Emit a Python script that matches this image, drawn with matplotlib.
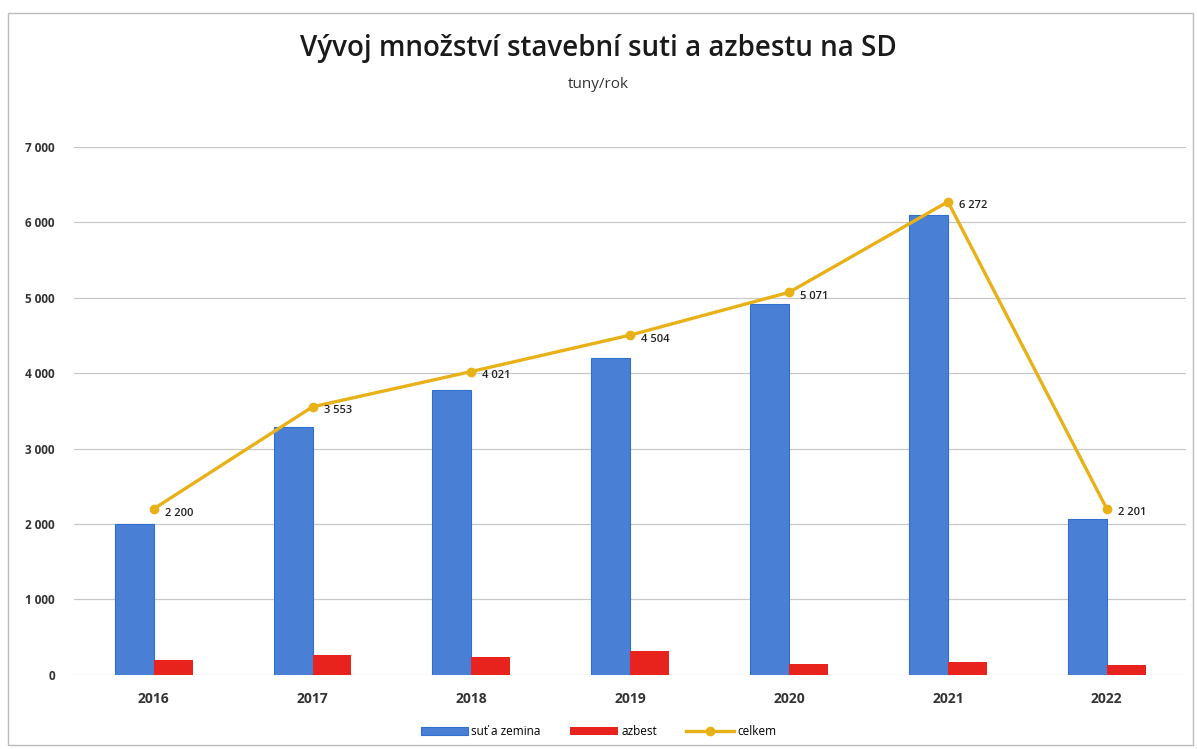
import numpy as np
import matplotlib
matplotlib.use("Agg")
import matplotlib.pyplot as plt
from matplotlib.ticker import FuncFormatter

years = ["2016", "2017", "2018", "2019", "2020", "2021", "2022"]
celkem = [2200, 3553, 4021, 4504, 5071, 6272, 2201]
azbest = [200, 265, 240, 310, 150, 175, 130]
sut = [2000, 3288, 3781, 4194, 4921, 6097, 2071]

plt.rcParams['font.family'] = ['Open Sans', 'DejaVu Sans']


def fmt(v):
    return f"{int(v):,}".replace(",", " ")


fig = plt.figure(figsize=(11.97, 7.49), dpi=100)
ax = fig.add_axes([0.062, 0.099, 0.929, 0.705])

x = np.arange(len(years))
w = 0.245
b1 = ax.bar(x - w / 2, sut, w, color='#4a7fd6', edgecolor='#2f6fd0', linewidth=0.8, label='suť a zemina', zorder=2)
b2 = ax.bar(x + w / 2, azbest, w, color='#e8221c', label='azbest', zorder=2)
l1, = ax.plot(x, celkem, color='#e9b118', lw=2.4, marker='o', ms=6, label='celkem', zorder=3)

for xi, v in zip(x, celkem):
    ax.annotate(fmt(v), (xi, v), xytext=(8, -3), textcoords='offset points',
                fontsize=8, fontweight='semibold', color='#222222', va='center', ha='left')

ax.set_xlim(-0.5, len(years) - 0.5)
ax.set_ylim(0, 7000)
ax.set_yticks(range(0, 7001, 1000))
ax.yaxis.set_major_formatter(FuncFormatter(lambda v, p: fmt(v)))
ax.set_xticks(x)
ax.set_xticklabels(years, fontsize=10, fontweight='bold', color='#333333')
ax.tick_params(axis='y', labelsize=8.5, colors='#333333', length=0, pad=14)
ax.tick_params(axis='x', length=0, pad=12)
for lbl in ax.get_yticklabels():
    lbl.set_fontweight('bold')
ax.grid(axis='y', color='#c8c8c8', lw=0.9, zorder=0)
for s in ax.spines.values():
    s.set_visible(False)

fig.text(0.5, 0.935, "Vývoj množství stavební suti a azbestu na SD", ha='center', va='center',
         fontsize=20, fontweight='semibold', color='#1a1a1a')
fig.text(0.5, 0.887, "tuny/rok", ha='center', va='center', fontsize=11, color='#333333')

fig.legend([b1, b2, l1], ['suť a zemina', 'azbest', 'celkem'], loc='lower center',
           bbox_to_anchor=(0.5, 0.0), ncol=3, frameon=False,
           fontsize=8.5, handlelength=4, columnspacing=2.5, handletextpad=0.3)

fig.patches.append(plt.Rectangle((0.007, 0.005), 0.99, 0.978, transform=fig.transFigure,
                                 fill=False, edgecolor='#bbbbbb', lw=1))

fig.savefig("out.png", dpi=100)
